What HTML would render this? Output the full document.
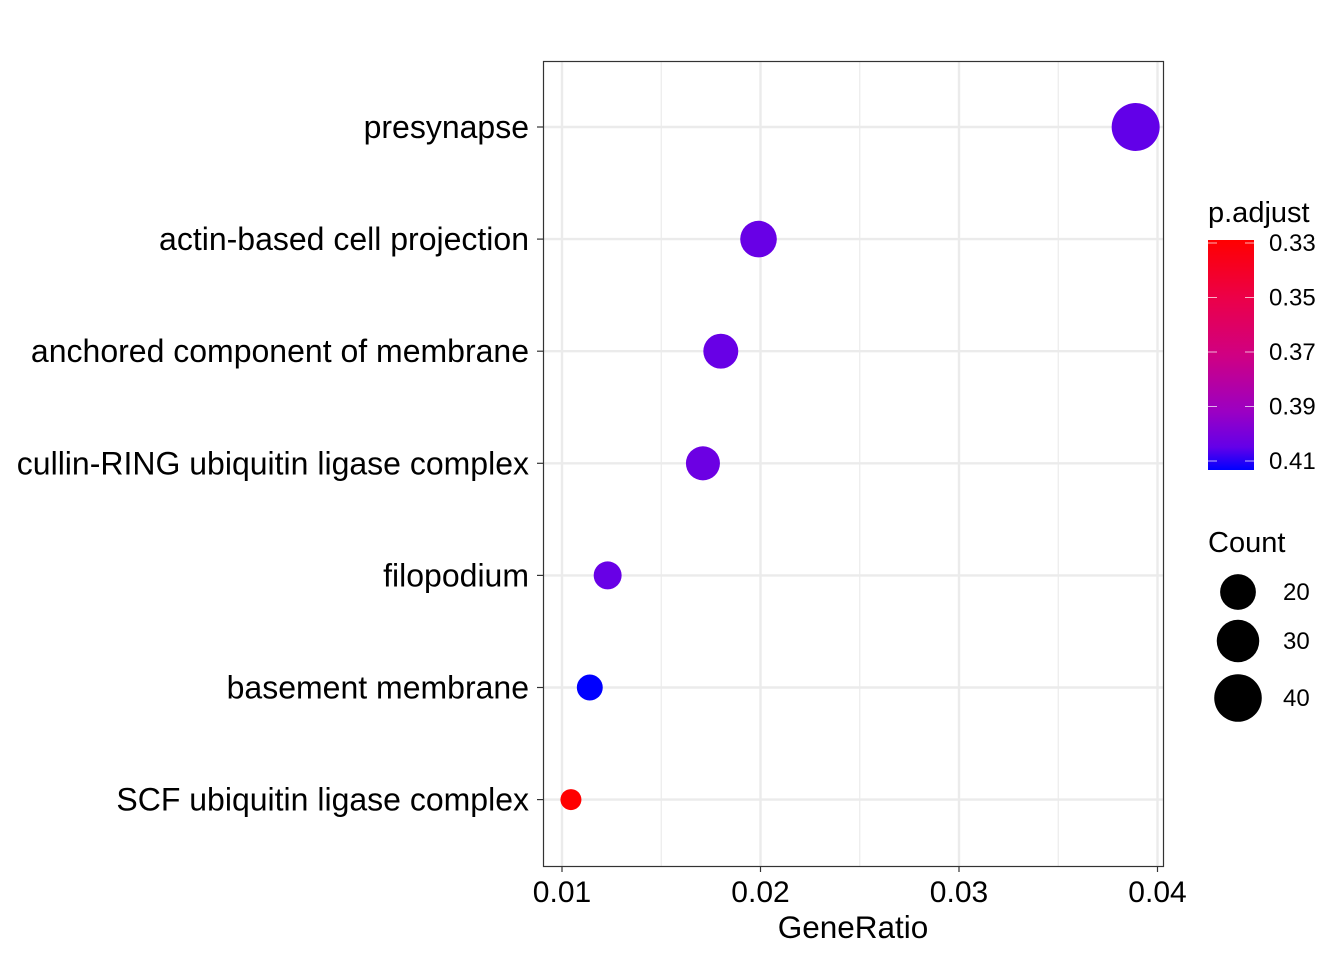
<!DOCTYPE html>
<html><head><meta charset="utf-8"><style>
html,body{margin:0;padding:0;background:#fff}
svg{display:block;font-family:"Liberation Sans",Arial,sans-serif}
</style></head><body>
<svg id="chart" width="1344" height="960" xmlns="http://www.w3.org/2000/svg">
<defs>
<linearGradient id="pgrad" x1="0" y1="0" x2="0" y2="1">
<stop offset="0" stop-color="#FF0000"/>
<stop offset="0.25" stop-color="#EC0048"/>
<stop offset="0.5" stop-color="#D00082"/>
<stop offset="0.75" stop-color="#9A00C4"/>
<stop offset="0.9" stop-color="#6400E8"/>
<stop offset="1" stop-color="#0000FF"/>
</linearGradient>
</defs>
<g id="grid"></g>
<g id="points"></g>
<rect x="543.5" y="61.5" width="620" height="805" fill="none" stroke="#333" stroke-width="1.2"/>
<g id="axes"></g>
<text x="853" y="938" font-size="31.5" text-anchor="middle" fill="#000">GeneRatio</text>
<g id="legend"></g>
</svg>
<script>
const categories = ["presynapse","actin-based cell projection","anchored component of membrane","cullin-RING ubiquitin ligase complex","filopodium","basement membrane","SCF ubiquitin ligase complex"];
const geneRatio = [0.0389,0.0199,0.0180,0.0171,0.0123,0.0114,0.01045];
const counts = [41,21,19,18,13,12,11];
const pAdjust = [0.405,0.404,0.404,0.403,0.404,0.4133,0.3289];
const xTicks = [0.01,0.02,0.03,0.04];
const xTickLabels = ["0.01","0.02","0.03","0.04"];
const colorTicks = [0.33,0.35,0.37,0.39,0.41];
const sizeBreaks = [20,30,40];

const NS="http://www.w3.org/2000/svg";
function mk(tag,attrs,parent){const e=document.createElementNS(NS,tag);for(const k in attrs)e.setAttribute(k,attrs[k]);parent.appendChild(e);return e;}
const xScale=v=>562+(v-0.01)*19850;
const yScale=i=>127+i*112.1;
const cMin=Math.min(...counts),cMax=Math.max(...counts);
const rScale=c=>(21+Math.sqrt((c-cMin)/(cMax-cMin))*27)/2;
const pMin=Math.min(...pAdjust),pMax=Math.max(...pAdjust);
const stops=[[0,[255,0,0]],[0.25,[236,0,72]],[0.5,[208,0,130]],[0.75,[154,0,196]],[0.9,[100,0,232]],[1,[0,0,255]]];
function colorOf(p){let t=(p-pMin)/(pMax-pMin);t=Math.max(0,Math.min(1,t));
for(let i=1;i<stops.length;i++){if(t<=stops[i][0]){const a=stops[i-1],b=stops[i],f=(t-a[0])/(b[0]-a[0]);
const c=a[1].map((v,j)=>Math.round(v+(b[1][j]-v)*f));return `rgb(${c.join(',')})`;}}return "rgb(0,0,255)";}

const grid=document.getElementById('grid'),pts=document.getElementById('points'),axes=document.getElementById('axes'),leg=document.getElementById('legend');
for(let i=0;i<xTicks.length-1;i++){const v=(xTicks[i]+xTicks[i+1])/2;
 const l=mk('line',{x1:xScale(v),x2:xScale(v),y1:61,y2:866,stroke:'#EBEBEB','stroke-width':1.2},grid);
 
 }
xTicks.forEach((v,i)=>{
 const l=mk('line',{x1:xScale(v),x2:xScale(v),y1:61,y2:866,stroke:'#EBEBEB','stroke-width':2.4},grid);
 
 
 const t=mk('line',{x1:xScale(v),x2:xScale(v),y1:866,y2:872,stroke:'#333','stroke-width':1.2},axes);
 
 
 const tx=mk('text',{x:xScale(v),y:902,'font-size':30,'text-anchor':'middle',fill:'#000'},axes);
 tx.textContent=xTickLabels[i];
 
 
});
categories.forEach((c,i)=>{
 const y=yScale(i);
 const l=mk('line',{x1:543,x2:1163,y1:y,y2:y,stroke:'#EBEBEB','stroke-width':2.4},grid);
 
 
 const t=mk('line',{x1:537,x2:543,y1:y,y2:y,stroke:'#333','stroke-width':1.2},axes);
 
 
 const tx=mk('text',{x:529,y:y+11,'font-size':32,'text-anchor':'end',fill:'#000'},axes);
 tx.textContent=c;
 
 
 const p=mk('circle',{cx:xScale(geneRatio[i]),cy:y,r:rScale(counts[i]),fill:colorOf(pAdjust[i])},pts);
 
 
});
const lt=mk('text',{x:1208,y:222,'font-size':29,fill:'#000'},leg);lt.textContent='p.adjust';


const bar=mk('rect',{x:1208,y:240,width:46,height:230,fill:'url(#pgrad)'},leg);


const barY=p=>240+(p-pMin)/(pMax-pMin)*230;
colorTicks.forEach(v=>{const y=barY(v);
 mk('line',{x1:1208,x2:1217,y1:y,y2:y,stroke:'#fff','stroke-width':1,opacity:0.7},leg);
 mk('line',{x1:1245,x2:1254,y1:y,y2:y,stroke:'#fff','stroke-width':1,opacity:0.7},leg);
 const t=mk('text',{x:1269,y:y+8,'font-size':24,fill:'#000'},leg);t.textContent=v.toFixed(2);
 
 
});
const st=mk('text',{x:1208,y:552,'font-size':29,fill:'#000'},leg);st.textContent='Count';


const sy=[592,641,698];
sizeBreaks.forEach((b,i)=>{
 const c=mk('circle',{cx:1238,cy:sy[i],r:rScale(b),fill:'#000'},leg);
 
 
 const t=mk('text',{x:1283,y:sy[i]+8,'font-size':24,fill:'#000'},leg);t.textContent=b;
 
 
});
</script>
</body></html>
